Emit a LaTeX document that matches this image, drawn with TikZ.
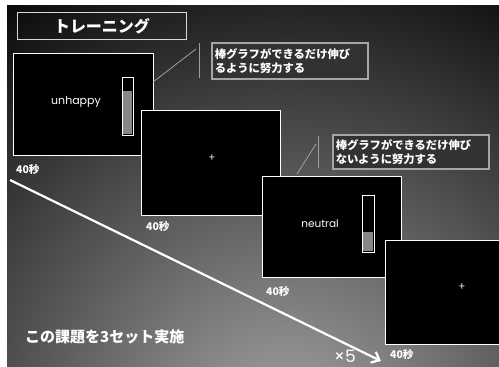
\documentclass[tikz,border=0pt]{standalone}
\usepackage{fontspec}
\setmainfont{Noto Sans CJK JP}
\newfontfamily\latinfont{Poppins}
\usetikzlibrary{arrows.meta}
\definecolor{bgmid}{RGB}{165,165,165}
\definecolor{calloutbg}{RGB}{50,50,50}
\definecolor{barfill}{RGB}{135,135,135}
\begin{document}
\begin{tikzpicture}[x=1pt,y=-1pt,
  screen/.style={draw=white, line width=1.2pt, fill=black, inner sep=0pt, anchor=north west},
  bar/.style={draw=white, line width=1pt, fill=black},
  callout/.style={draw=gray!70, line width=1.6pt, fill=calloutbg, text=white, anchor=north west,
    inner sep=3pt, align=left, font=\bfseries\fontsize{11.3}{14}\selectfont},
  lead/.style={draw=gray!75, line width=0.8pt},
  timelbl/.style={text=white, font=\bfseries\fontsize{10.5}{12}\selectfont, inner sep=0pt},
  word/.style={text=white, font=\latinfont\fontsize{10.5}{12}\selectfont, inner sep=0pt},
  cross/.style={text=white, font=\fontsize{11}{12}\selectfont, inner sep=0pt}]
\useasboundingbox (0,0) rectangle (499,367);
\fill[white] (0,0) rectangle (499,367);
\begin{scope}
  \clip (7,5) rectangle (499,367);
  \fill[black] (7,5) rectangle (499,367);
  \shade[inner color=bgmid, outer color=black] (285,430) circle[radius=540pt];

  % title
  \node[draw=white!85!black, line width=1pt, minimum width=169pt, minimum height=27pt, inner sep=0pt,
        anchor=north west, text=white, font=\bfseries\fontsize{16}{18}\selectfont] (title) at (17,12) {トレーニング};

  % screen 1
  \node[screen, minimum width=140pt, minimum height=102pt] (s1) at (13,53) {};
  \node[word, font=\latinfont\fontsize{11}{12}\selectfont] (w1) at (76,102) {unhappy};
  \node[bar, minimum width=11pt, minimum height=58pt, inner sep=0pt, anchor=north west] (b1) at (122,77) {};
  \fill[barfill] (122.8,91) rectangle (132.2,134.2);
  \node[timelbl, anchor=west] (t1) at (16,170) {40秒};

  % screen 2
  \node[screen, minimum width=139pt, minimum height=105pt] (s2) at (141,110) {};
  \node[cross] (p2) at (212,158) {+};
  \node[timelbl, anchor=west] (t2) at (146,227) {40秒};

  % screen 3
  \node[screen, minimum width=139pt, minimum height=101pt] (s3) at (262,176) {};
  \node[word] (w3) at (320,224) {neutral};
  \node[bar, minimum width=12pt, minimum height=57pt, inner sep=0pt, anchor=north west] (b3) at (362,195) {};
  \fill[barfill] (362.8,232) rectangle (373.2,251.2);
  \node[timelbl, anchor=west] (t3) at (266,292) {40秒};

  % screen 4
  \node[screen, minimum width=130pt, minimum height=104pt] (s4) at (385,240) {};
  \node[cross] (p4) at (462,287) {+};
  \node[timelbl, anchor=west] (t4) at (390,355) {40秒};

  % callouts
  \node[callout, text width=150pt, minimum height=36pt] (c1) at (211,42) {棒グラフができるだけ伸び\\るように努力する};
  \coordinate (v1a) at (199,43);
  \coordinate (v1b) at (199,78);
  \coordinate (d1a) at (153,82);
  \coordinate (d1b) at (196,49);
  \draw[lead] (v1a) -- (v1b);
  \draw[lead] (d1a) -- (d1b);

  \node[callout, text width=150pt, minimum height=34pt] (c2) at (332,134) {棒グラフができるだけ伸び\\ないように努力する};
  \coordinate (v2a) at (318,136);
  \coordinate (v2b) at (318,168);
  \coordinate (d2a) at (297,174);
  \coordinate (d2b) at (316,144);
  \draw[lead] (v2a) -- (v2b);
  \draw[lead] (d2a) -- (d2b);

  % arrow
  \coordinate (a0) at (10,180);
  \coordinate (a1) at (381,361);
  \draw[white, line width=2.2pt, -{Straight Barb[length=7pt,width=12pt,line width=2.2pt]}] (a0) -- (a1);
  \node[text=white, font=\latinfont\fontsize{17}{18}\selectfont, inner sep=0pt] (x5) at (345,356) {×5};

  \node[text=white, font=\bfseries\fontsize{15}{17}\selectfont, inner sep=0pt, anchor=west] (sets) at (25,337) {この課題を3セット実施};
\end{scope}
\end{tikzpicture}
\end{document}
